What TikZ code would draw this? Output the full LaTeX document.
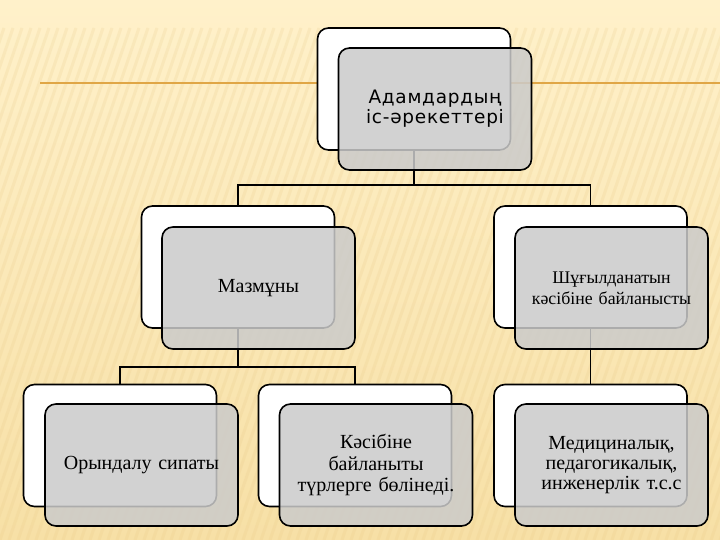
\documentclass[tikz,border=0pt]{standalone}
\usepackage{fontspec}
\setmainfont{Liberation Serif}
\newfontfamily\headfont[LetterSpace=4]{DejaVu Sans}
\definecolor{paper}{RGB}{255,241,202}
\definecolor{paperlow}{RGB}{247,224,166}
\definecolor{hatch}{RGB}{232,200,135}
\definecolor{rule}{RGB}{224,166,70}
\definecolor{boxgrey}{RGB}{203,203,203}

\begin{document}
\begin{tikzpicture}[x=1pt, y=-1pt,
	backbox/.style={shape=rectangle, rounded corners=11pt, draw, line width=1.6pt, fill=white, minimum width=193pt, minimum height=122pt},
	frontbox/.style={backbox, fill=boxgrey, fill opacity=0.85, text opacity=1, text width=184pt, align=center, font=\fontsize{20}{21.7}\selectfont},
	wire/.style={line width=1.3pt}]
	% Background and title rule:
	\useasboundingbox (0, 0) rectangle (720, 540);
	\shade[top color=paper, bottom color=paperlow] (0, 0) rectangle (720, 540);
	\begin{scope}
		\clip (0, 28) rectangle (720, 540);
		\foreach \x in {-180,-171,...,720}
			\draw[hatch, line width=3pt, opacity=0.2] (\x, 540) -- ++(175, -512);
	\end{scope}
	\draw[rule, line width=2.6pt] (40, 83) -- (720, 83);
	% Back boxes:
	\node[backbox] (actw) at (414, 89){};
	\node[backbox] (contw) at (238, 267){};
	\node[backbox] (profw) at (590.5, 267){};
	\node[backbox] (perfw) at (120, 445.5){};
	\node[backbox] (typew) at (355, 445.5){};
	\node[backbox] (fieldw) at (590.5, 445.5){};
	% Wires:
	\coordinate (hubtop) at (414, 185);
	\coordinate (hubleft) at (238, 367);
	\draw[wire] (actw.south) -- (hubtop) -| (contw.north);
	\draw[wire] (hubtop) -| (profw.north);
	\draw[wire] (contw.south) -- (hubleft) -| (perfw.north);
	\draw[wire] (hubleft) -| (typew.north);
	\draw[wire] (profw.south) -- (fieldw.north);
	% Front boxes:
	\node[frontbox, font=\headfont\fontsize{18.5}{20}\selectfont] (act) at (435, 109){Адамдардың\\іс-әрекеттері};
	\node[frontbox] (cont) at (258.5, 288){Мазмұны};
	\node[frontbox, font=\fontsize{17.8}{21}\selectfont] (prof) at (611.5, 288){Шұғылданатын\\кәсібіне байланысты};
	\node[frontbox] (perf) at (141.5, 465){Орындалу сипаты};
	\node[frontbox] (type) at (376, 465){Кәсібіне\\байланыты\\түрлерге бөлінеді.};
	\node[frontbox, font=\fontsize{20}{20}\selectfont] (field) at (611.5, 465){Медициналық,\\педагогикалық,\\инженерлік т.с.с};
\end{tikzpicture}
\end{document}
